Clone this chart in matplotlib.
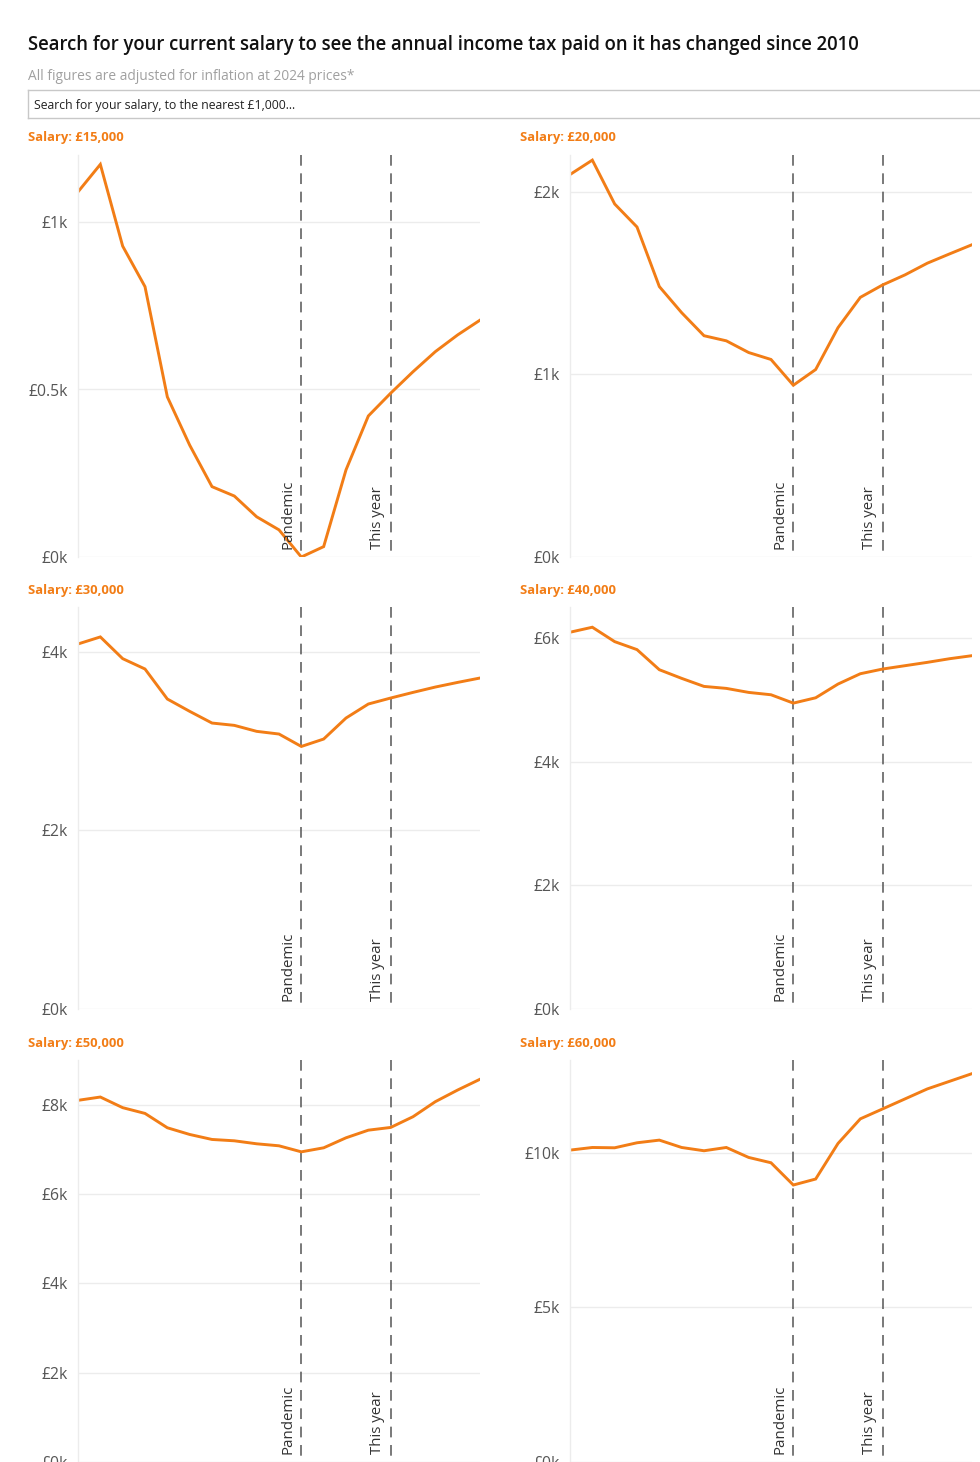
import numpy as np
import matplotlib
matplotlib.use("Agg")
import matplotlib.pyplot as plt

plt.rcParams["font.family"] = ["Open Sans", "DejaVu Sans"]

W, H = 980, 1462

years = list(range(2010, 2029))
pandemic_year = 2020
this_year = 2024

salaries = ["£15,000", "£20,000", "£30,000", "£40,000", "£50,000", "£60,000"]

tax_15k = [1090, 1172, 928, 807, 478, 334, 210, 182, 120, 81, 0, 31, 260, 421, 489, 553, 613, 663, 707]
tax_20k = [2093, 2172, 1932, 1806, 1480, 1337, 1211, 1183, 1119, 1081, 940, 1026, 1255, 1421, 1489, 1544, 1608, 1659, 1709]
tax_30k = [4086, 4165, 3922, 3806, 3470, 3332, 3201, 3175, 3108, 3078, 2939, 3022, 3257, 3414, 3481, 3544, 3604, 3656, 3705]
tax_40k = [6092, 6173, 5940, 5811, 5486, 5346, 5216, 5184, 5119, 5081, 4946, 5032, 5254, 5421, 5497, 5551, 5605, 5664, 5713]
tax_50k = [8097, 8171, 7933, 7804, 7483, 7333, 7221, 7191, 7124, 7079, 6944, 7034, 7258, 7429, 7490, 7730, 8067, 8328, 8569]
tax_60k = [10086, 10171, 10161, 10323, 10409, 10171, 10065, 10171, 9849, 9677, 8957, 9151, 10301, 11097, 11419, 11742, 12065, 12312, 12559]

series = [tax_15k, tax_20k, tax_30k, tax_40k, tax_50k, tax_60k]
y_max = [1200, 2200, 4500, 6500, 9000, 13000]
y_ticks = [
    [0, 500, 1000],
    [0, 1000, 2000],
    [0, 2000, 4000],
    [0, 2000, 4000, 6000],
    [0, 2000, 4000, 6000, 8000],
    [0, 5000, 10000],
]
y_tick_labels = [
    ["£0k", "£0.5k", "£1k"],
    ["£0k", "£1k", "£2k"],
    ["£0k", "£2k", "£4k"],
    ["£0k", "£2k", "£4k", "£6k"],
    ["£0k", "£2k", "£4k", "£6k", "£8k"],
    ["£0k", "£5k", "£10k"],
]

ORANGE = "#f27d16"
GRID = "#ececec"
TICK = "#555555"


def px_axes(fig, left, top, right, bottom):
    return fig.add_axes([left / W, 1 - bottom / H, (right - left) / W, (bottom - top) / H])


fig = plt.figure(figsize=(W / 100, H / 100), dpi=100)

fig.text(28 / W, 1 - 45 / H,
         "Search for your current salary to see the annual income tax paid on it has changed since 2010",
         fontsize=13.35, fontweight="semibold", color="#111111", va="center", ha="left")
fig.text(28 / W, 1 - 76 / H, "All figures are adjusted for inflation at 2024 prices*",
         fontsize=9.9, color="#a0a0a0", va="center", ha="left")

# search box
box = px_axes(fig, 28, 90, 990, 118)
box.set_xticks([])
box.set_yticks([])
for s in box.spines.values():
    s.set_color("#c8c8c8")
    s.set_linewidth(1)
box.text(6 / 962, 0.45, "Search for your salary, to the nearest £1,000...",
         transform=box.transAxes, fontsize=8.8, color="#222222", va="center", ha="left")

col_left = [78, 570]
col_title_x = [28, 520]
row_top = [155, 607, 1060]
row_bottom = [557, 1009, 1462]
row_title_y = [138, 590, 1043]

for k, (vals, sal) in enumerate(zip(series, salaries)):
    r, c = divmod(k, 2)
    ax = px_axes(fig, col_left[c], row_top[r], col_left[c] + 402, row_bottom[r])
    ax.set_xlim(years[0], years[-1])
    ax.set_ylim(0, y_max[k])
    ax.set_yticks(y_ticks[k])
    ax.set_yticklabels(y_tick_labels[k])
    ax.set_xticks([])
    ax.tick_params(axis="y", length=0, pad=7, labelsize=11.3, labelcolor=TICK)
    ax.grid(axis="y", color=GRID, linewidth=1)
    ax.set_axisbelow(True)
    for name in ["top", "right", "bottom"]:
        ax.spines[name].set_visible(False)
    ax.spines["left"].set_color(GRID)
    ax.spines["left"].set_linewidth(1)

    for yr, lab in [(pandemic_year, "Pandemic"), (this_year, "This year")]:
        # drawn top-down so the dash pattern starts at the top edge
        ax.axvline(yr, ymin=1, ymax=0, color="#555555", linewidth=1.1, dashes=(7, 5))
        ax.annotate(lab, xy=(yr, 0), xycoords="data", xytext=(-9.5, 6),
                    textcoords="offset points", rotation=90, ha="center", va="bottom",
                    fontsize=10.8, color="#333333")

    ax.plot(years, vals, color=ORANGE, linewidth=2.1, solid_joinstyle="miter")

    fig.text(col_title_x[c] / W, 1 - row_title_y[r] / H, f"Salary: {sal}",
             fontsize=9.4, fontweight="bold", color=ORANGE, va="center", ha="left")

fig.savefig("out.png", dpi=100)
